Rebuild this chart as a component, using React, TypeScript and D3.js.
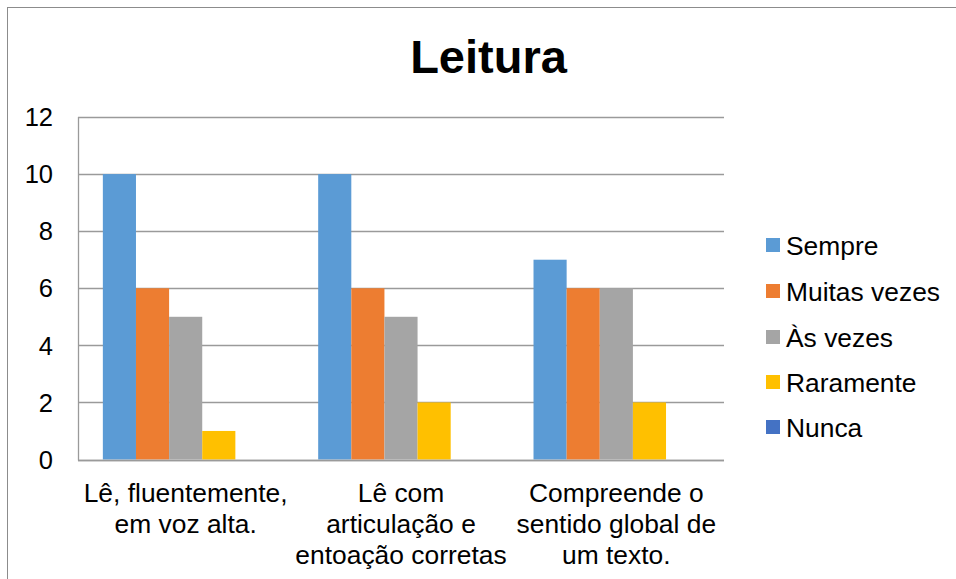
import React from "react";
import * as d3 from "d3";

const categories = [
  ["Lê, fluentemente,", "em voz alta."],
  ["Lê com", "articulação e", "entoação corretas"],
  ["Compreende o", "sentido global de", "um texto."],
];
const seriesNames = ["Sempre", "Muitas vezes", "Às vezes", "Raramente", "Nunca"];
const seriesColors = ["#5B9BD5", "#ED7D31", "#A5A5A5", "#FFC000", "#4472C4"];
const sempre = [10, 10, 7];
const muitasVezes = [6, 6, 6];
const asVezes = [5, 5, 6];
const raramente = [1, 2, 2];
const nunca = [0, 0, 0];
const seriesValues = [sempre, muitasVezes, asVezes, raramente, nunca];
const yTicks = [0, 2, 4, 6, 8, 10, 12];
const title = "Leitura";

const W = 956;
const H = 579;
const FONT = "Arial, 'Liberation Sans', sans-serif";

export default function App() {
  const plotL = 78, plotR = 724, plotT = 117, plotB = 459.5;
  const catIdx = categories.map((_, i) => i);
  const x0 = d3.scaleBand<number>().domain(catIdx).range([plotL, plotR]).paddingInner(0).paddingOuter(0);
  const bw = x0.bandwidth();
  const gap = (bw * 1.5) / 6.5;
  const x1 = d3.scaleBand<number>().domain(seriesNames.map((_, i) => i)).range([gap / 2, bw - gap / 2]).padding(0);
  const y = d3.scaleLinear().domain([0, 12]).range([plotB, plotT]);

  const legendY = [245, 291, 337, 382, 427];

  return (
    <>
      <style>{`html,body{margin:0;padding:0;overflow:hidden;background:#fff}`}</style>
      <svg width={W} height={H} style={{ display: "block" }} fontFamily={FONT}>
        <rect x={0} y={0} width={W} height={H} fill="#fff" />
        <rect x={7.5} y={7.5} width={W + 20} height={H + 20} fill="none" stroke="#8c8c8c" strokeWidth={1} />
        <text x={488.5} y={73} textAnchor="middle" fontSize={47} fontWeight="bold" fill="#000">
          {title}
        </text>
        {yTicks.map((t) => (
          <g key={t}>
            <line x1={plotL} x2={plotR} y1={Math.round(y(t)) + 0.5} y2={Math.round(y(t)) + 0.5} stroke="#9a9a9a" strokeWidth={1.3} />
            <text x={53} y={y(t)} dy="0.36em" textAnchor="end" fontSize={25.5} fill="#000">
              {t}
            </text>
          </g>
        ))}
        <line x1={plotL + 0.5} x2={plotL + 0.5} y1={plotT} y2={plotB + 1} stroke="#9a9a9a" strokeWidth={1.3} />
        {catIdx.map((ci) => (
          <g key={ci} transform={`translate(${x0(ci)},0)`}>
            {seriesValues.map((vals, si) => {
              const v = vals[ci];
              if (v <= 0) return null;
              return (
                <rect
                  key={si}
                  x={x1(si)}
                  y={y(v)}
                  width={x1.bandwidth()}
                  height={y(0) - y(v)}
                  fill={seriesColors[si]}
                />
              );
            })}
          </g>
        ))}
        <line x1={plotL} x2={plotR} y1={Math.round(y(0)) + 0.5} y2={Math.round(y(0)) + 0.5} stroke="#9a9a9a" strokeWidth={1.5} />
        {categories.map((lines, ci) => (
          <text key={ci} textAnchor="middle" fontSize={26.4} fill="#000">
            {lines.map((ln, li) => (
              <tspan key={li} x={(x0(ci) as number) + bw / 2} y={502 + li * 31}>
                {ln}
              </tspan>
            ))}
          </text>
        ))}
        {seriesNames.map((name, si) => (
          <g key={name}>
            <rect x={766} y={legendY[si] - 7} width={14} height={14} fill={seriesColors[si]} />
            <text x={786} y={legendY[si]} dy="0.36em" fontSize={26.4} fill="#000">
              {name}
            </text>
          </g>
        ))}
      </svg>
    </>
  );
}
